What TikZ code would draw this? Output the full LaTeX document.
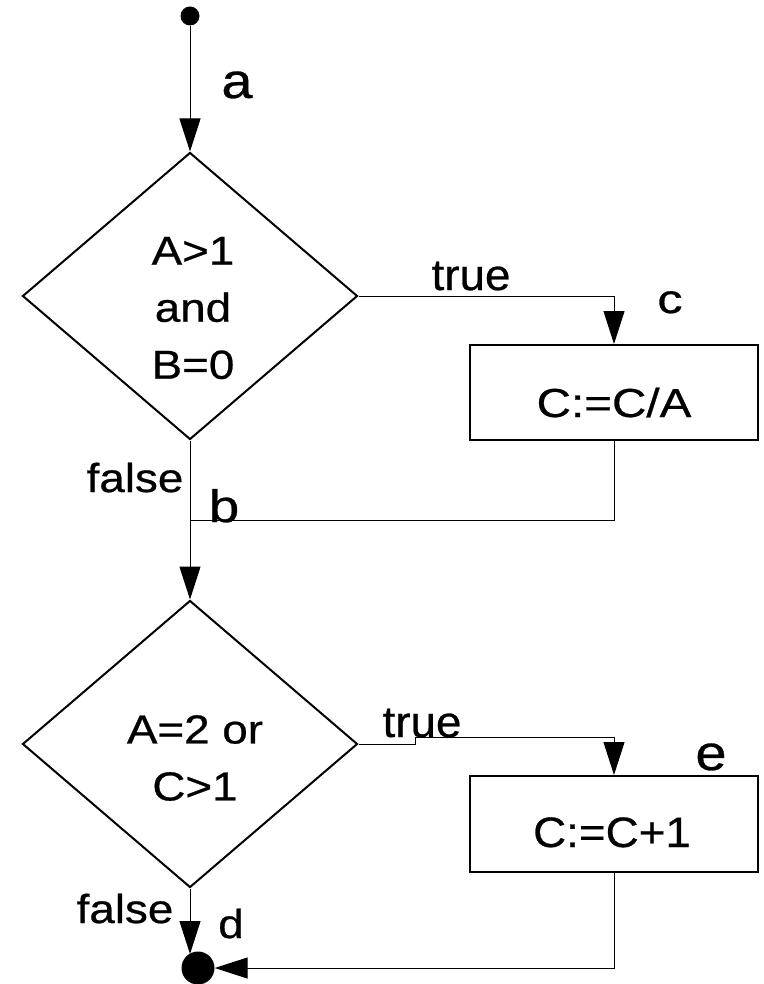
\documentclass[tikz,border=0pt]{standalone}
\usepackage{fontspec}
\setmainfont{Liberation Sans}[FakeStretch=1.13,FakeBold=0.6]
\usetikzlibrary{shapes.geometric,arrows.meta}
\newcommand{\sclabel}[3]{\scalebox{#1}[#2]{#3}}
\begin{document}
\begin{tikzpicture}[x=1pt,y=-1pt,
  every node/.style={font=\fontsize{40.5}{57}\selectfont},
  decision/.style={diamond,draw,line width=2pt,inner sep=0pt,minimum width=335pt,minimum height=287pt},
  block/.style={rectangle,draw,line width=2pt,inner sep=0pt,minimum width=288pt,minimum height=95pt},
  txt/.style={inner sep=0pt,anchor=base},
  conn/.style={line width=1pt},
  arr/.style={conn,-{Triangle[length=33pt,width=21pt]}},
  dot/.style={circle,fill=black,inner sep=0pt}]
\useasboundingbox (0,0) rectangle (763,984);
% nodes
\node[dot,minimum size=19pt] (start) at (190,16) {};
\node[decision] (d1) at (190,296) {};
\node[txt,anchor=center,align=center] (t1) at (193,308) {A>1\\and\\B=0};
\node[block] (b1) at (614,392.5) {};
\node[txt] (l1) at (614,417) {\sclabel{1.04}{1.0}{C:=C/A}};
\node[decision] (d2) at (190,744) {};
\node[txt,anchor=center,align=center] (t2) at (195,758) {A=2 or\\C>1};
\node[block,minimum height=96pt] (b2) at (614,824) {};
\node[txt] (l2) at (612,847) {\sclabel{1.0}{1.05}{C:=C+1}};
\node[dot,minimum size=33pt] (end) at (198,968) {};
% labels
\node[txt] (la) at (237,98) {\sclabel{1.22}{1.22}{a}};
\node[txt] (ltrue1) at (471,290) {\sclabel{1.0}{1.08}{true}};
\node[txt] (lc) at (670,313) {\sclabel{1.1}{1.0}{c}};
\node[txt] (lfalse1) at (135,492) {false};
\node[txt] (lb) at (224,522) {\sclabel{1.2}{1.12}{b}};
\node[txt] (ltrue2) at (422,737) {\sclabel{1.0}{1.08}{true}};
\node[txt] (le) at (711,770) {\sclabel{1.22}{1.22}{e}};
\node[txt] (lfalse2) at (125,923) {false};
\node[txt] (ld) at (231,938) {d};
% helper coordinates
\coordinate (j1) at (190,520);
\coordinate (k1) at (415,744);
\coordinate (k2) at (415,737);
\coordinate (endtop) at (190,954);
% connectors
\draw[arr] (start) -- (d1.north);
\draw[arr] (d1.east) -| (b1.north);
\draw[conn] (b1.south) |- (j1);
\draw[arr] (d1.south) -- (d2.north);
\draw[arr] (d2.east) -- (k1) -- (k2) -| (b2.north);
\draw[arr] (d2.south) -- (endtop);
\draw[arr] (b2.south) |- (end.east);
\end{tikzpicture}
\end{document}
